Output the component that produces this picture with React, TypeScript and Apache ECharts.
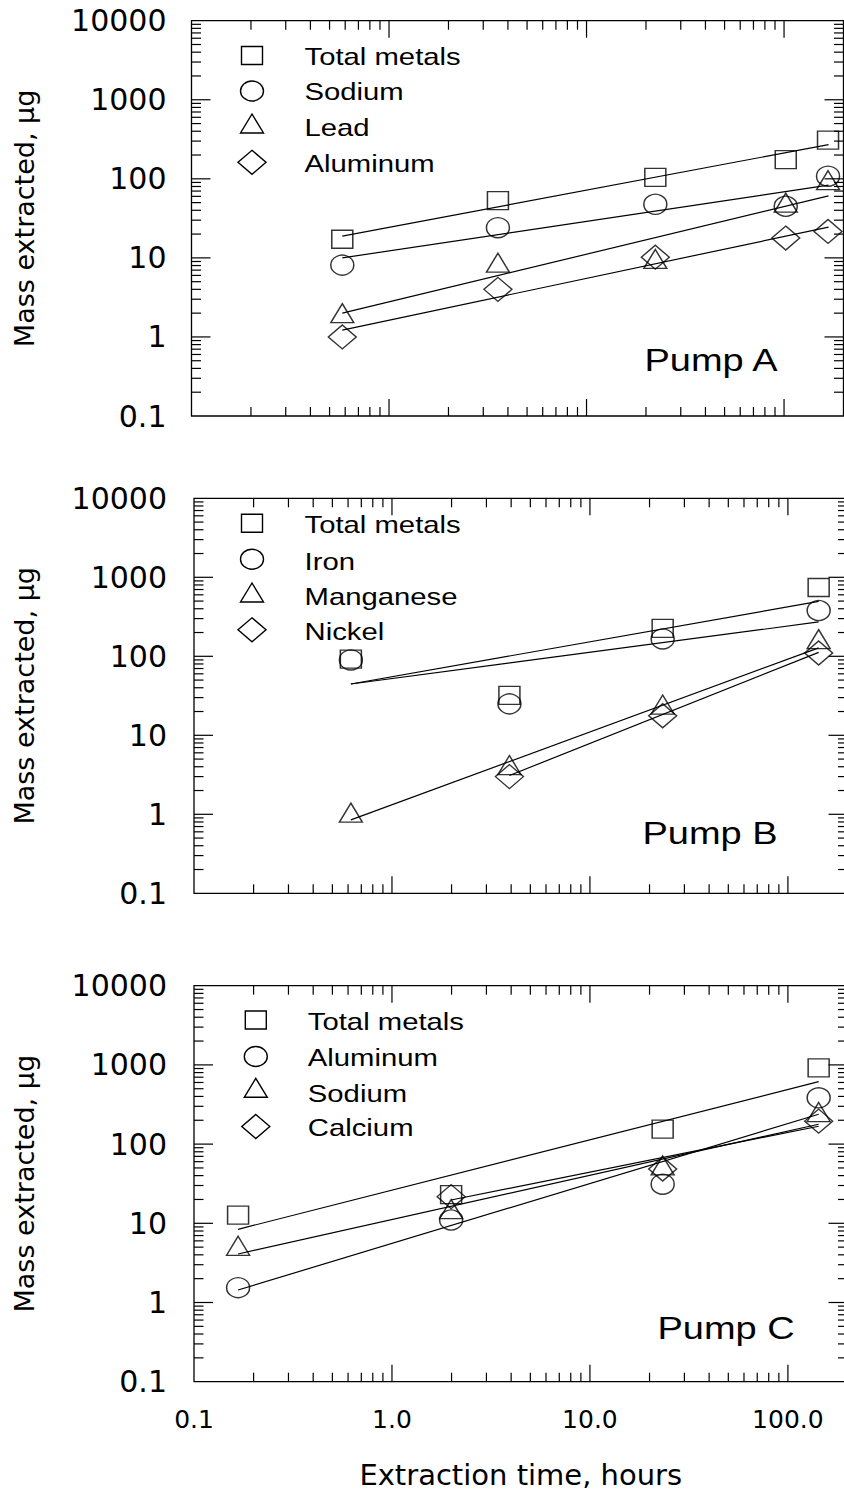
import React, { useEffect, useRef } from 'react';
import * as echarts from 'echarts';

// ---------- Pump A ----------
const timesA = [0.58, 3.56, 22.3, 102, 167];
const totalA = [17.2, 52.9, 104, 175, 308];
const sodiumA = [8.1, 24.1, 47.6, 45, 108];
const leadA = [2.0, 8.7, 9.7, 50, 96];
const aluminumA = [1.0, 4.0, 10.2, 17.8, 21.6];
const fitXA = [0.58, 168];
const fitTotalA = [18.8, 271];
const fitSodiumA = [10.0, 83];
const fitLeadA = [2.0, 61];
const fitAluminumA = [1.22, 24.5];

// ---------- Pump B ----------
const timesB = [0.62, 3.92, 23.3, 143];
const totalB = [92, 32, 226, 743];
const ironB = [90, 25, 166, 380];
const manganeseB = [1.05, 4.2, 24.5, 165];
const nickelB = [null, 3.0, 17.7, 110];
const fitXB = [0.62, 143];
const fitXNickelB = [3.92, 143];
const fitTotalB = [44.6, 495];
const fitIronB = [44.6, 272];
const fitManganeseB = [0.85, 128];
const fitNickelB = [3.1, 112];

// ---------- Pump C ----------
const timesC = [0.167, 1.99, 23.3, 143];
const totalC = [12.7, 23, 155, 918];
const aluminumC = [1.54, 11.0, 31.2, 384];
const sodiumC = [5.2, 15.1, 53.7, 254];
const calciumC = [null, 21.7, 48.5, 195];
const fitXC = [0.167, 143];
const fitXCalciumC = [1.99, 143];
const fitTotalC = [8.4, 614];
const fitAluminumC = [1.44, 238];
const fitSodiumC = [4.1, 178];
const fitCalciumC = [19.7, 168];

// ---------- axes / ticks ----------
const xMin = 0.1;
const xMax = 200;
const yMin = 0.1;
const yMax = 10000;
const tickMantissas = [2, 3, 4, 5, 6, 7, 8, 9];
const xMinorDecades = [0.1, 1, 10];
const xMajorTicks = [1, 10, 100];
const yMinorDecades = [0.1, 1, 10, 100, 1000];
const yMajorTicks = [1, 10, 100, 1000];
const xTitle = 'Extraction time, hours';
const yTitle = 'Mass extracted, \u00b5g';

const SHAPES: Record<string, { symbol: string; size: number[] }> = {
  square: { symbol: 'rect', size: [21, 18] },
  circle: { symbol: 'circle', size: [23, 20] },
  triangle: { symbol: 'triangle', size: [23, 19] },
  diamond: { symbol: 'diamond', size: [28, 24] },
};

const panels = [
  {
    grid: { left: 191.5, top: 20.7, width: 652, height: 395.3 },
    yNameGap: 154,
    yLabelMargin: 25,
    series: [
      { name: 'Total metals', shape: 'square', x: timesA, y: totalA, fitX: fitXA, fitY: fitTotalA },
      { name: 'Sodium', shape: 'circle', x: timesA, y: sodiumA, fitX: fitXA, fitY: fitSodiumA },
      { name: 'Lead', shape: 'triangle', x: timesA, y: leadA, fitX: fitXA, fitY: fitLeadA },
      { name: 'Aluminum', shape: 'diamond', x: timesA, y: aluminumA, fitX: fitXA, fitY: fitAluminumA },
    ],
    legend: { markerX: 252, textX: 304.5, markerY: [55.5, 91, 123.5, 162.3], textY: [56.8, 91.8, 127.7, 163.8] },
    pump: { text: 'Pump A', x: 644.5, y: 360.5 },
  },
  {
    grid: { left: 194, top: 498.3, width: 653.5, height: 395 },
    yNameGap: 156.5,
    yLabelMargin: 27,
    series: [
      { name: 'Total metals', shape: 'square', x: timesB, y: totalB, fitX: fitXB, fitY: fitTotalB },
      { name: 'Iron', shape: 'circle', x: timesB, y: ironB, fitX: fitXB, fitY: fitIronB },
      { name: 'Manganese', shape: 'triangle', x: timesB, y: manganeseB, fitX: fitXB, fitY: fitManganeseB },
      { name: 'Nickel', shape: 'diamond', x: timesB, y: nickelB, fitX: fitXNickelB, fitY: fitNickelB },
    ],
    legend: { markerX: 252, textX: 304.5, markerY: [523.3, 559.2, 592.5, 629.8], textY: [525.2, 561.5, 596.8, 631.8] },
    pump: { text: 'Pump B', x: 642.5, y: 833.5 },
  },
  {
    grid: { left: 194, top: 985.7, width: 653.5, height: 396 },
    yNameGap: 156.5,
    yLabelMargin: 27,
    series: [
      { name: 'Total metals', shape: 'square', x: timesC, y: totalC, fitX: fitXC, fitY: fitTotalC },
      { name: 'Aluminum', shape: 'circle', x: timesC, y: aluminumC, fitX: fitXC, fitY: fitAluminumC },
      { name: 'Sodium', shape: 'triangle', x: timesC, y: sodiumC, fitX: fitXC, fitY: fitSodiumC },
      { name: 'Calcium', shape: 'diamond', x: timesC, y: calciumC, fitX: fitXCalciumC, fitY: fitCalciumC },
    ],
    legend: { markerX: 255.8, textX: 307.8, markerY: [1020, 1056.5, 1087.8, 1126.5], textY: [1021.8, 1057.7, 1093.5, 1128] },
    pump: { text: 'Pump C', x: 657.5, y: 1328.5 },
  },
];

const xTickData: number[][] = [];
xMinorDecades.forEach((d) => tickMantissas.forEach((m) => xTickData.push([m * d, 1, 0])));
xMajorTicks.forEach((v) => xTickData.push([v, 1, 1]));
const yTickData: number[][] = [];
yMinorDecades.forEach((d) => tickMantissas.forEach((m) => yTickData.push([1, m * d, 0])));
yMajorTicks.forEach((v) => yTickData.push([1, v, 1]));

const STROKE = '#000';

function legendMarker(shape: string, cx: number, cy: number) {
  const [w, h] = SHAPES[shape].size;
  const style = { fill: 'none', stroke: STROKE, lineWidth: 1.4 };
  if (shape === 'square') return { type: 'rect', shape: { x: cx - w / 2, y: cy - h / 2, width: w, height: h }, style };
  if (shape === 'circle') return { type: 'ellipse', shape: { cx, cy, rx: w / 2, ry: h / 2 }, style };
  if (shape === 'triangle')
    return { type: 'polygon', shape: { points: [[cx, cy - h / 2], [cx + w / 2, cy + h / 2], [cx - w / 2, cy + h / 2]] }, style };
  return { type: 'polygon', shape: { points: [[cx, cy - h / 2], [cx + w / 2, cy], [cx, cy + h / 2], [cx - w / 2, cy]] }, style };
}

function buildOption() {
  const grids: any[] = [];
  const xAxes: any[] = [];
  const yAxes: any[] = [];
  const series: any[] = [];
  const graphics: any[] = [];

  panels.forEach((p, i) => {
    const isLast = i === panels.length - 1;
    grids.push({
      ...p.grid,
      show: true,
      borderColor: STROKE,
      borderWidth: 1.3,
      backgroundColor: 'transparent',
      containLabel: false,
      outerBoundsMode: 'none',
    });
    xAxes.push({
      type: 'log',
      logBase: 10,
      gridIndex: i,
      min: xMin,
      max: xMax,
      axisLine: { show: false },
      axisTick: { show: false },
      splitLine: { show: false },
      axisLabel: {
        show: isLast,
        margin: 25,
        color: STROKE,
        fontFamily: 'DejaVu Sans',
        fontSize: 25,
        formatter: (v: number) => {
          const l = Math.log10(v);
          if (Math.abs(l - Math.round(l)) > 1e-6) return '';
          return v.toFixed(1);
        },
      },
      name: isLast ? xTitle : '',
      nameLocation: 'middle',
      nameGap: 79,
      nameMoveOverlap: false,
      nameTextStyle: { color: STROKE, fontFamily: 'DejaVu Sans', fontSize: 29 },
    });
    yAxes.push({
      type: 'log',
      logBase: 10,
      gridIndex: i,
      min: yMin,
      max: yMax,
      axisLine: { show: false },
      axisTick: { show: false },
      splitLine: { show: false },
      axisLabel: {
        margin: p.yLabelMargin,
        color: STROKE,
        fontFamily: 'DejaVu Sans',
        fontSize: 30,
        formatter: (v: number) => (v < 1 ? v.toFixed(1) : String(Math.round(v))),
      },
      name: yTitle,
      nameLocation: 'middle',
      nameGap: p.yNameGap,
      nameRotate: 90,
      nameMoveOverlap: false,
      nameTextStyle: { color: STROKE, fontFamily: 'DejaVu Sans', fontSize: 27 },
    });

    // tick marks (all four sides) drawn through the axes' own scales
    series.push({
      type: 'custom',
      xAxisIndex: i,
      yAxisIndex: i,
      silent: true,
      clip: false,
      z: 4,
      encode: { x: 0, y: 1 },
      data: xTickData,
      renderItem: (params: any, api: any) => {
        const cs = params.coordSys;
        const px = api.coord([api.value(0), 1])[0];
        const len = api.value(2) ? 17 : 9;
        const bottom = cs.y + cs.height;
        const st = { stroke: STROKE, lineWidth: 1.2 };
        return {
          type: 'group',
          children: [
            { type: 'line', shape: { x1: px, y1: bottom, x2: px, y2: bottom - len }, style: st },
            { type: 'line', shape: { x1: px, y1: cs.y, x2: px, y2: cs.y + len }, style: st },
          ],
        };
      },
    });
    series.push({
      type: 'custom',
      xAxisIndex: i,
      yAxisIndex: i,
      silent: true,
      clip: false,
      z: 4,
      encode: { x: 0, y: 1 },
      data: yTickData,
      renderItem: (params: any, api: any) => {
        const cs = params.coordSys;
        const py = api.coord([1, api.value(1)])[1];
        const len = api.value(2) ? 19 : 9.5;
        const right = cs.x + cs.width;
        const st = { stroke: STROKE, lineWidth: 1.2 };
        return {
          type: 'group',
          children: [
            { type: 'line', shape: { x1: cs.x, y1: py, x2: cs.x + len, y2: py }, style: st },
            { type: 'line', shape: { x1: right, y1: py, x2: right - len, y2: py }, style: st },
          ],
        };
      },
    });

    p.series.forEach((s, k) => {
      const sh = SHAPES[s.shape];
      const pts: number[][] = [];
      s.x.forEach((xv, j) => {
        const yv = (s.y as (number | null)[])[j];
        if (yv != null) pts.push([xv, yv]);
      });
      series.push({
        type: 'scatter',
        name: s.name,
        xAxisIndex: i,
        yAxisIndex: i,
        symbol: sh.symbol,
        symbolSize: sh.size,
        silent: true,
        z: 3,
        itemStyle: { color: 'rgba(0,0,0,0)', borderColor: STROKE, borderWidth: 1.4 },
        emphasis: { disabled: true },
        data: pts,
      });
      series.push({
        type: 'line',
        name: s.name + ' fit',
        xAxisIndex: i,
        yAxisIndex: i,
        symbol: 'none',
        showSymbol: false,
        silent: true,
        z: 2,
        lineStyle: { color: STROKE, width: 1.2 },
        emphasis: { disabled: true },
        data: s.fitX.map((xv, j) => [xv, s.fitY[j]]),
      });

      graphics.push(legendMarker(s.shape, p.legend.markerX, p.legend.markerY[k]));
      graphics.push({
        type: 'text',
        x: p.legend.textX,
        y: p.legend.textY[k],
        scaleX: 1.22,
        style: {
          text: s.name,
          fill: STROKE,
          font: '24px "Liberation Sans", Arial, sans-serif',
          textAlign: 'left',
          textVerticalAlign: 'middle',
          align: 'left',
          verticalAlign: 'middle',
        },
      });
    });

    graphics.push({
      type: 'text',
      x: p.pump.x,
      y: p.pump.y,
      scaleX: 1.225,
      style: {
        text: p.pump.text,
        fill: STROKE,
        font: '31px "Liberation Sans", Arial, sans-serif',
        textAlign: 'left',
        textVerticalAlign: 'middle',
        align: 'left',
        verticalAlign: 'middle',
      },
    });
  });

  return {
    animation: false,
    backgroundColor: '#fff',
    grid: grids,
    xAxis: xAxes,
    yAxis: yAxes,
    series,
    graphic: { elements: graphics },
  };
}

export default function App() {
  const ref = useRef<HTMLDivElement>(null);
  useEffect(() => {
    if (!ref.current) return;
    const chart = echarts.init(ref.current, null, { renderer: 'svg' });
    chart.setOption(buildOption() as any);
    return () => chart.dispose();
  }, []);
  return (
    <div
      ref={ref}
      style={{ position: 'fixed', left: 0, top: 0, width: 844, height: 1493, background: '#fff' }}
    />
  );
}
